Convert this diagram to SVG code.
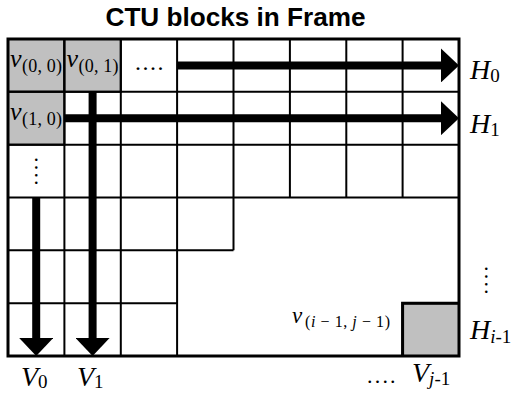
<svg xmlns="http://www.w3.org/2000/svg" width="516" height="398" viewBox="0 0 516 398">
<style>
.title{font-family:"Liberation Sans",Arial,sans-serif;font-weight:bold;font-size:25px;fill:#000}
.m{font-family:"Liberation Serif","Times New Roman",serif;fill:#000}
.it{font-style:italic}
.grid{stroke:#000;stroke-width:2;fill:none}
.border{stroke:#000;stroke-width:3;fill:none}
.gray{fill:#c0c0c0;stroke:#000;stroke-width:2}
.arrow{stroke:#000;stroke-width:8;fill:none;marker-end:url(#head)}
</style>
<defs>
<marker id="head" viewBox="0 0 18 34" refX="0" refY="17" markerWidth="18" markerHeight="34" markerUnits="userSpaceOnUse" orient="auto">
<path d="M0,0 L18,17 L0,34 Z" fill="#000"/>
</marker>
</defs>
<rect width="516" height="398" fill="#fff"/>
<text class="title" x="235.5" y="26" text-anchor="middle" textLength="260" lengthAdjust="spacingAndGlyphs">CTU blocks in Frame</text>

<g id="cell-v00"><rect class="gray" x="8" y="39" width="56.4" height="52.8"/>
<text class="m it" x="10" y="67" font-size="26">v</text>
<text class="m" x="22" y="72" font-size="18" textLength="40">(0, 0)</text></g>
<g id="cell-v01"><rect class="gray" x="64.4" y="39" width="56.4" height="52.8"/>
<text class="m it" x="66.5" y="67" font-size="26">v</text>
<text class="m" x="78.5" y="72" font-size="18" textLength="40">(0, 1)</text></g>
<g id="cell-v10"><rect class="gray" x="8" y="91.8" width="56.4" height="52.9"/>
<text class="m it" x="10" y="120" font-size="26">v</text>
<text class="m" x="22" y="125" font-size="18" textLength="40">(1, 0)</text></g>
<g id="cell-vlast"><rect class="gray" x="402.6" y="303.2" width="56.4" height="52.8" stroke-width="3"/>
<text class="m it" x="292" y="323" font-size="23">v</text>
<text class="m" x="305" y="327" font-size="16" textLength="85">(<tspan class="it">i</tspan> − 1, <tspan class="it">j</tspan> − 1)</text></g>

<g id="grid">
<path class="grid" d="M8,91.8H459 M8,144.7H459 M8,197.5H459 M8,250.3H233.5 M8,303.2H177.1 M64.4,39V356 M120.8,39V356 M177.1,39V356 M233.5,39V250.3 M289.9,39V197.5 M346.3,39V197.5 M402.6,39V197.5"/>
<rect class="border" x="8" y="39" width="451" height="317"/>
<path d="M402.6,356V303.2H459" stroke="#000" stroke-width="3" fill="none"/>
</g>

<g id="connectors">
<path class="arrow" d="M177.1,65.4H441"/>
<path class="arrow" d="M64.4,118.2H441"/>
<path class="arrow" d="M92.6,91.8V338"/>
<path class="arrow" d="M36.2,197.5V338"/>
</g>

<g id="labels">
<text class="m" x="135" y="70" font-size="24" letter-spacing="1.5">....</text>
<text class="m" font-size="22" letter-spacing="2.2" transform="translate(35,157) rotate(90)">....</text>
<text class="m" font-size="22" letter-spacing="2.2" transform="translate(485,266) rotate(90)">....</text>
<text class="m" x="367" y="383" font-size="22" letter-spacing="2.2">....</text>
<text class="m" x="470" y="79"><tspan class="it" font-size="28">H</tspan><tspan font-size="19" dy="3">0</tspan></text>
<text class="m" x="470" y="133"><tspan class="it" font-size="28">H</tspan><tspan font-size="19" dy="3">1</tspan></text>
<text class="m" x="470" y="339"><tspan class="it" font-size="28">H</tspan><tspan class="it" font-size="19" dy="4">i</tspan><tspan font-size="19">-1</tspan></text>
<text class="m" x="21" y="386"><tspan class="it" font-size="28">V</tspan><tspan font-size="19" dy="2">0</tspan></text>
<text class="m" x="77" y="386"><tspan class="it" font-size="28">V</tspan><tspan font-size="19" dy="2">1</tspan></text>
<text class="m" x="412" y="382"><tspan class="it" font-size="28">V</tspan><tspan class="it" font-size="19" dy="3">j</tspan><tspan font-size="19">-1</tspan></text>
</g>
</svg>
